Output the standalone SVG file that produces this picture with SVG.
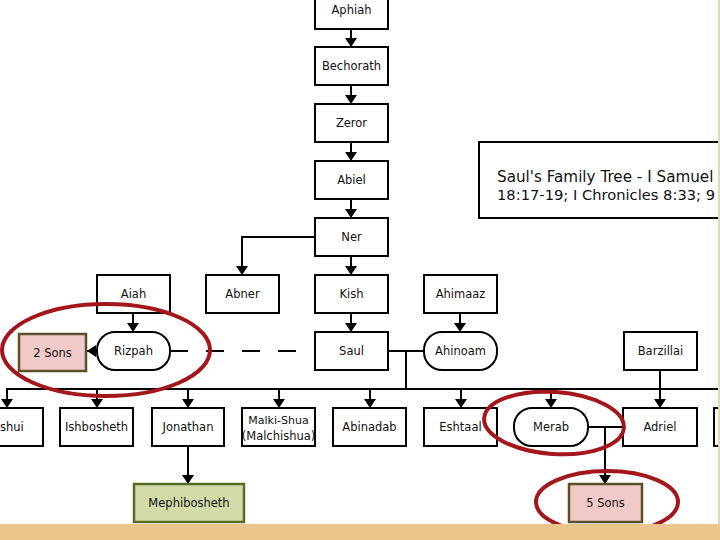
<svg xmlns="http://www.w3.org/2000/svg" width="720" height="540" viewBox="0 0 720 540">
<defs>
<marker id="ah" markerUnits="userSpaceOnUse" markerWidth="12" markerHeight="12" refX="9" refY="6" orient="auto">
<path d="M0,0 L9,6 L0,12 z" fill="#000"/>
</marker>
<clipPath id="page"><rect x="0" y="0" width="718" height="524"/></clipPath>
<style>
.box{fill:#fff;stroke:#000;stroke-width:2}
.t{font-family:"DejaVu Sans",Verdana,sans-serif;font-size:11.5px;fill:#111;text-anchor:middle;dominant-baseline:central}
.c{fill:none;stroke:#000;stroke-width:2}
.a{fill:none;stroke:#000;stroke-width:2;marker-end:url(#ah)}
.ring{fill:none;stroke:#a3161b;stroke-width:4}
.pink{fill:#f2c9c9;stroke:#5a5029;stroke-width:2.5}
.green{fill:#d2dba8;stroke:#5c6a28;stroke-width:2.5}
.title{font-family:"DejaVu Sans",Verdana,sans-serif;font-size:15.2px;fill:#111}
</style>
</defs>
<rect x="0" y="0" width="720" height="540" fill="#fff"/>
<g clip-path="url(#page)">
<g id="connectors">
<line class="a" x1="351" y1="29" x2="351" y2="47"/>
<line class="a" x1="351" y1="85" x2="351" y2="104"/>
<line class="a" x1="351" y1="142" x2="351" y2="161"/>
<line class="a" x1="351" y1="199" x2="351" y2="218"/>
<line class="a" x1="351" y1="256" x2="351" y2="275"/>
<polyline class="a" points="315,237 242,237 242,275"/>
<line class="a" x1="133" y1="313" x2="133" y2="332"/>
<line class="a" x1="351" y1="313" x2="351" y2="332"/>
<line class="a" x1="460" y1="313" x2="460" y2="332"/>
<line class="a" x1="97" y1="351" x2="87" y2="351" stroke-width="3"/>
<line x1="170" y1="351" x2="315" y2="351" stroke="#000" stroke-width="2" stroke-dasharray="18 18"/>
<line class="c" x1="388" y1="351" x2="423" y2="351"/>
<line class="c" x1="406" y1="351" x2="406" y2="389"/>
<polyline class="c" points="7,408 7,389 718,389"/>
<line class="a" x1="7" y1="389" x2="7" y2="408"/>
<line class="a" x1="97" y1="389" x2="97" y2="408"/>
<line class="a" x1="188" y1="389" x2="188" y2="408"/>
<line class="a" x1="279" y1="389" x2="279" y2="408"/>
<line class="a" x1="370" y1="389" x2="370" y2="408"/>
<line class="a" x1="461" y1="389" x2="461" y2="408"/>
<line class="a" x1="551" y1="389" x2="551" y2="408"/>
<line class="a" x1="660" y1="370" x2="660" y2="408"/>
<line class="a" x1="188" y1="446" x2="188" y2="484"/>
<line class="c" x1="588" y1="427" x2="623" y2="427"/>
<line class="a" x1="605" y1="427" x2="605" y2="484"/>
</g>
<g id="aphiah"><rect class="box" x="315" y="-9" width="73" height="38"/><text class="t" x="351.5" y="10">Aphiah</text></g>
<g id="bechorath"><rect class="box" x="315" y="47" width="73" height="38"/><text class="t" x="351.5" y="66">Bechorath</text></g>
<g id="zeror"><rect class="box" x="315" y="104" width="73" height="38"/><text class="t" x="351.5" y="123">Zeror</text></g>
<g id="abiel"><rect class="box" x="315" y="161" width="73" height="38"/><text class="t" x="351.5" y="180">Abiel</text></g>
<g id="ner"><rect class="box" x="315" y="218" width="73" height="38"/><text class="t" x="351.5" y="237">Ner</text></g>
<g id="aiah"><rect class="box" x="97" y="275" width="73" height="38"/><text class="t" x="133.5" y="294">Aiah</text></g>
<g id="abner"><rect class="box" x="206" y="275" width="73" height="38"/><text class="t" x="242.5" y="294">Abner</text></g>
<g id="kish"><rect class="box" x="315" y="275" width="73" height="38"/><text class="t" x="351.5" y="294">Kish</text></g>
<g id="ahimaaz"><rect class="box" x="424" y="275" width="73" height="38"/><text class="t" x="460.5" y="294">Ahimaaz</text></g>
<g id="two-sons"><rect class="pink" x="19" y="334" width="67" height="37"/><text class="t" x="52.5" y="352.5" fill="#333">2 Sons</text></g>
<g id="rizpah"><rect class="box" x="97" y="332" width="73" height="38" rx="18"/><text class="t" x="133.5" y="351">Rizpah</text></g>
<g id="saul"><rect class="box" x="315" y="332" width="73" height="38"/><text class="t" x="351.5" y="351">Saul</text></g>
<g id="ahinoam"><rect class="box" x="424" y="332" width="73" height="38" rx="18"/><text class="t" x="460.5" y="351">Ahinoam</text></g>
<g id="barzillai"><rect class="box" x="624" y="332" width="73" height="38"/><text class="t" x="660.5" y="351">Barzillai</text></g>
<g id="ishui"><rect class="box" x="-30" y="408" width="73" height="38"/><text class="t" x="0" y="427" style="text-anchor:start">shui</text></g>
<g id="ishbosheth"><rect class="box" x="60" y="408" width="73" height="38"/><text class="t" x="96.5" y="427">Ishbosheth</text></g>
<g id="jonathan"><rect class="box" x="152" y="408" width="72" height="38"/><text class="t" x="188" y="427">Jonathan</text></g>
<g id="malkishua"><rect class="box" x="242" y="408" width="73" height="38"/><text class="t" x="278.5" y="420" style="font-size:11px">Malki-Shua</text><text class="t" x="278.5" y="436">(Malchishua)</text></g>
<g id="abinadab"><rect class="box" x="333" y="408" width="73" height="38"/><text class="t" x="369.5" y="427">Abinadab</text></g>
<g id="eshtaal"><rect class="box" x="424" y="408" width="73" height="38"/><text class="t" x="460.5" y="427">Eshtaal</text></g>
<g id="merab"><rect class="box" x="514" y="408" width="74" height="38" rx="18"/><text class="t" x="551" y="427">Merab</text></g>
<g id="adriel"><rect class="box" x="623" y="408" width="74" height="38"/><text class="t" x="660" y="427">Adriel</text></g>
<g id="next-child"><rect class="box" x="714" y="408" width="73" height="38"/></g>
<g id="mephibosheth"><rect class="green" x="134" y="484" width="110" height="38"/><text class="t" x="189" y="503" fill="#3b3b22">Mephibosheth</text></g>
<g id="five-sons"><rect class="pink" x="569" y="484" width="73" height="38"/><text class="t" x="605.5" y="503" fill="#333">5 Sons</text></g>
<g id="title"><rect class="box" x="479" y="142" width="300" height="76"/>
<text class="title" x="497" y="182">Saul's Family Tree - I Samuel</text>
<text class="title" x="497" y="200" style="font-size:14.7px">18:17-19; I Chronicles 8:33; 9</text></g>
<g id="highlights">
<ellipse class="ring" cx="106" cy="350" rx="104" ry="46"/>
<ellipse class="ring" cx="554" cy="423" rx="70" ry="31" transform="rotate(4 554 423)"/>
<ellipse class="ring" cx="607" cy="502" rx="71" ry="31"/>
</g>
</g>
<rect x="0" y="524" width="720" height="16" fill="#e8c68c"/>
<rect x="718" y="0" width="2" height="524" fill="#ead6b4"/>
</svg>
